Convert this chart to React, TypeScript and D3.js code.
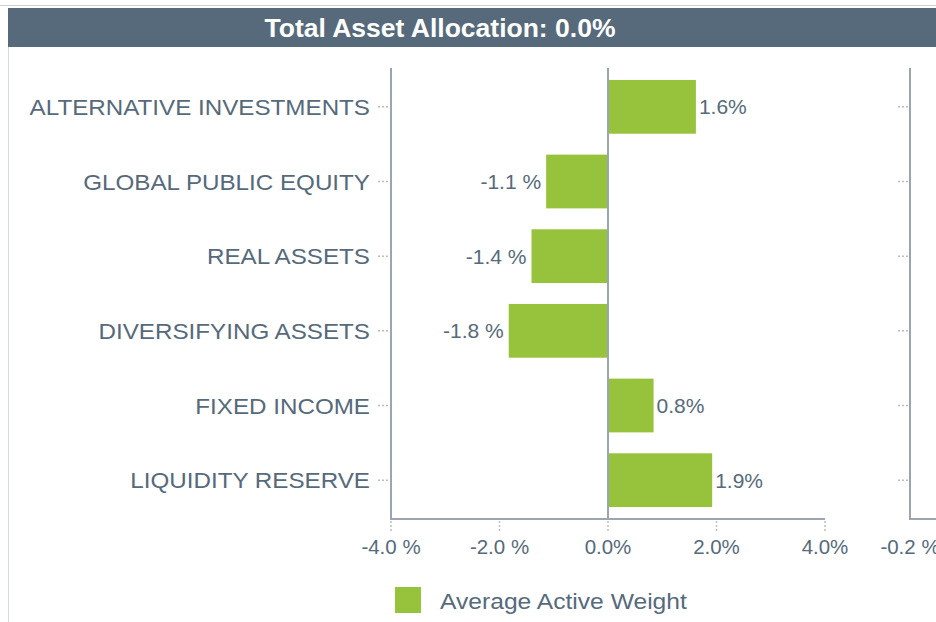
import React from 'react';
import * as d3 from 'd3';

const categories = [
  'ALTERNATIVE INVESTMENTS',
  'GLOBAL PUBLIC EQUITY',
  'REAL ASSETS',
  'DIVERSIFYING ASSETS',
  'FIXED INCOME',
  'LIQUIDITY RESERVE',
];
const activeWeights = [1.62, -1.14, -1.41, -1.83, 0.84, 1.92];
const xTicks = [-4, -2, 0, 2, 4];
const secondTicks = [-0.2];

const W = 936;
const H = 622;
const textColor = '#566a7b';
const axisColor = '#9aa5b1';
const barColor = '#97c23c';

const fmt = (v: number) => (v < 0 ? `${v.toFixed(1)} %` : `${v.toFixed(1)}%`);

// text that is a bit wider than plain Arial, like the original renderer
const Wide = ({ x, y, sx = 1.1, children, ...rest }: any) => (
  <text transform={`translate(${x},${y}) scale(${sx},1)`} {...rest}>{children}</text>
);

const App = () => {
  const top = 68;
  const bottom = 519;

  const x = d3.scaleLinear().domain([-4, 4]).range([391, 825]);
  const y = d3.scaleBand<string>().domain(categories).range([top + 1.5, bottom - 1.5]).paddingInner(0.28).paddingOuter(0.14);
  // second panel, only its left edge is visible
  const x2 = d3.scaleLinear().domain([-0.2, 0.2]).range([910, 1344]);

  return (
    <svg width={W} height={H} style={{ display: 'block', position: 'absolute', left: 0, top: 0 }}
      fontFamily="Arial, 'Liberation Sans', sans-serif">
      <rect x={0} y={0} width={W} height={H} fill="#ffffff" />
      <line x1={0} x2={W} y1={5.5} y2={5.5} stroke="#c9d0d8" strokeWidth={1} />
      <line x1={8.5} x2={8.5} y1={8} y2={H} stroke="#d5dae0" strokeWidth={1} />
      <rect x={8} y={8} width={W - 8} height={39} fill="#566a7b" />
      <text x={440} y={37} textAnchor="middle" fill="#ffffff" fontSize={26.5} fontWeight="bold">
        Total Asset Allocation: 0.0%
      </text>

      {/* category ticks + labels */}
      {categories.map((c) => {
        const cy = (y(c) as number) + y.bandwidth() / 2;
        return (
          <g key={c}>
            <line x1={378} x2={389} y1={cy} y2={cy} stroke="#b8bec5" strokeWidth={1.5} strokeDasharray="2,2" />
            <line x1={898} x2={909} y1={cy} y2={cy} stroke="#b8bec5" strokeWidth={1.5} strokeDasharray="2,2" />
            <Wide x={370} y={cy + 8} sx={1.1} textAnchor="end" fill={textColor} fontSize={22}>{c}</Wide>
          </g>
        );
      })}

      {/* bars */}
      {categories.map((c, i) => {
        const v = activeWeights[i];
        const x0 = x(Math.min(0, v));
        const x1 = x(Math.max(0, v));
        const cy = (y(c) as number) + y.bandwidth() / 2;
        return (
          <g key={'b' + c}>
            <rect x={x0} y={y(c)} width={x1 - x0} height={y.bandwidth()} fill={barColor} />
            <text x={v < 0 ? x0 - 5 : x1 + 3} y={cy + 7.5} textAnchor={v < 0 ? 'end' : 'start'}
              fill={textColor} fontSize={21}>{fmt(v)}</text>
          </g>
        );
      })}

      {/* axes */}
      <line x1={x(0)} x2={x(0)} y1={top} y2={bottom} stroke={axisColor} strokeWidth={2} />
      <line x1={x(-4)} x2={x(-4)} y1={top} y2={bottom + 1} stroke={axisColor} strokeWidth={2} />
      <line x1={x(-4)} x2={x(4)} y1={bottom} y2={bottom} stroke={axisColor} strokeWidth={2} />
      {xTicks.map((t) => (
        <g key={'t' + t}>
          <line x1={x(t)} x2={x(t)} y1={521} y2={531} stroke="#b8bec5" strokeWidth={1.5} strokeDasharray="2,2" />
          <text x={x(t)} y={554} textAnchor="middle" fill={textColor} fontSize={20.5}>{fmt(t)}</text>
        </g>
      ))}

      <line x1={x2(-0.2)} x2={x2(-0.2)} y1={top} y2={bottom + 1} stroke={axisColor} strokeWidth={2} />
      <line x1={x2(-0.2)} x2={W} y1={bottom} y2={bottom} stroke={axisColor} strokeWidth={2} />
      {secondTicks.map((t) => (
        <text key={'s' + t} x={x2(t)} y={554} textAnchor="middle" fill={textColor} fontSize={20.5}>{fmt(t)}</text>
      ))}

      {/* legend */}
      <rect x={395} y={587} width={26} height={26} fill={barColor} />
      <Wide x={440} y={609} sx={1.12} fill={textColor} fontSize={22}>Average Active Weight</Wide>
    </svg>
  );
};

export default App;
